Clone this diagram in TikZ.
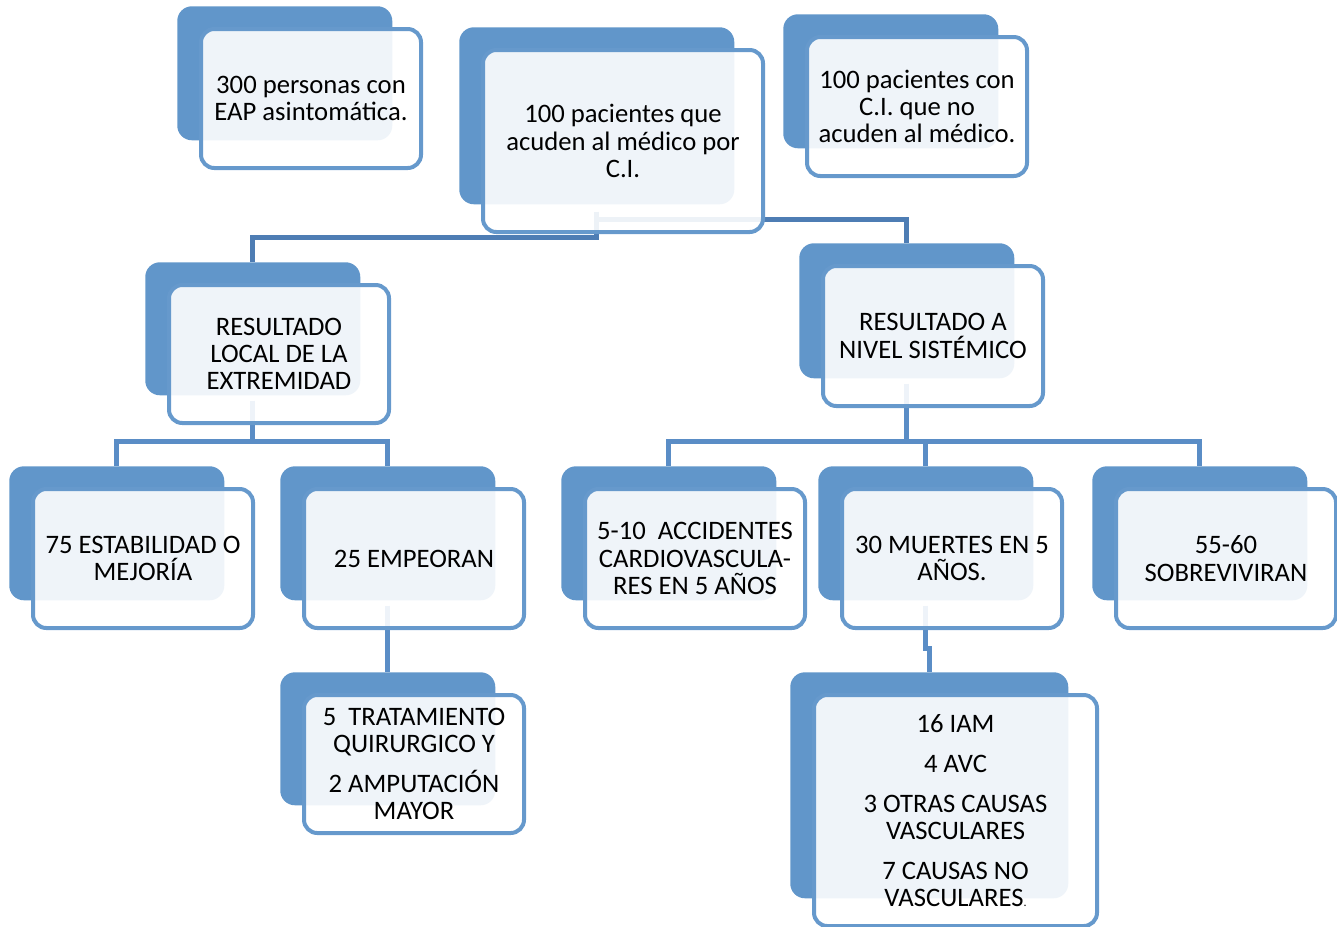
\documentclass[tikz,border=0pt]{standalone}
\usepackage{fontspec}
\setmainfont{Carlito}
\usetikzlibrary{calc,backgrounds}

\definecolor{azulfondo}{HTML}{6196CA}
\definecolor{azulborde}{HTML}{6699CC}
\definecolor{lineaosc}{HTML}{4E7DB4}
\definecolor{linea}{HTML}{5A8DC6}

\tikzset{
  fondo/.style={fill=azulfondo, rounded corners=11pt, inner sep=0pt, anchor=north west}, % caja de atras
  frente/.style={draw=azulborde, line width=3pt, fill=white, fill opacity=0.9, text opacity=1,
    rounded corners=10pt, inner sep=0pt, anchor=north west, align=center,
    font=\fontsize{20}{20.5}\selectfont}, % caja de delante
  conector/.style={draw=linea, line width=3.7pt}, % lineas de union
  conectorosc/.style={conector, draw=lineaosc} % linea de la caja principal
}

% nombre, x, y, ancho, alto, texto
\newcommand{\caja}[6]{%
  \node[fondo, minimum width=#4*0.75pt, minimum height=#5*0.75pt] (f#1) at (#2,#3) {};
  \node[frente, minimum width=(#4+5)*0.75pt, minimum height=(#5+5)*0.75pt]
    (#1) at ($(f#1.north west)+(22,21)$) {#6};
}

\begin{document}
\begin{tikzpicture}[x=0.75pt, y=-0.75pt]
    \useasboundingbox (0,0) rectangle (1337,926);

    \caja{eap}{177}{6}{215}{134}{300 personas con\\EAP asintomática.}
    \caja{acuden}{459}{27}{275}{177}{100 pacientes que\\acuden al médico por\\C.I.}
    \caja{noacuden}{783}{14}{215}{134}{100 pacientes con\\C.I. que no\\acuden al médico.}

    \caja{local}{145}{262}{215}{133}{RESULTADO\\LOCAL DE LA\\EXTREMIDAD}
    \caja{sistemico}{799}{243}{215}{135}{RESULTADO A\\NIVEL SISTÉMICO}

    \caja{estable}{9}{466}{215}{134}{75 ESTABILIDAD O\\MEJORÍA}
    \caja{empeoran}{280}{466}{215}{134}{25 EMPEORAN}
    \caja{cirugia}{280}{672}{215}{133}{5\ \ TRATAMIENTO\\QUIRURGICO Y\\[9pt]2 AMPUTACIÓN\\MAYOR}

    \caja{accidentes}{561}{466}{215}{134}{5-10\ \ ACCIDENTES\\CARDIOVASCULA-\\RES EN 5 AÑOS}
    \caja{muertes}{818}{466}{215}{134}{30 MUERTES EN 5\\AÑOS.}
    \caja{sobreviven}{1092}{466}{215}{134}{55-60\\SOBREVIVIRAN}
    \caja{causas}{790}{672}{278}{226}{16 IAM\\[9.5pt]4 AVC\\[9.5pt]3 OTRAS CAUSAS\\VASCULARES\\[9.5pt]7 CAUSAS NO\\VASCULARES{\small.}}

    \begin{pgfonlayer}{background}
    \coordinate (ramaL) at ($(flocal.south)+(0,46)$);
    \coordinate (ramaS) at ($(fsistemico.south)+(0,63)$);

    \draw[conectorosc] (facuden.south) ++(0,7) -- ++(0,26) -| (flocal.north);
    \draw[conectorosc] (facuden.south) ++(0,15) -| (fsistemico.north);

    \draw[conector] (flocal.south) ++(0,5) -- (ramaL);
    \draw[conector] (festable.north) |- (ramaL) -| (fempeoran.north);
    \draw[conector] (fempeoran.south) ++(0,5) -- (fcirugia.north);

    \draw[conector] (fsistemico.south) ++(0,5) -- (ramaS);
    \draw[conector] (faccidentes.north) |- (ramaS) -| (fsobreviven.north);
    \draw[conector] (fmuertes.north) -- ++(0,-25);
    \draw[conector] (fmuertes.south) ++(0,5) -- ++(0,43) -| (fcausas.north);
    \end{pgfonlayer}
\end{tikzpicture}
\end{document}
